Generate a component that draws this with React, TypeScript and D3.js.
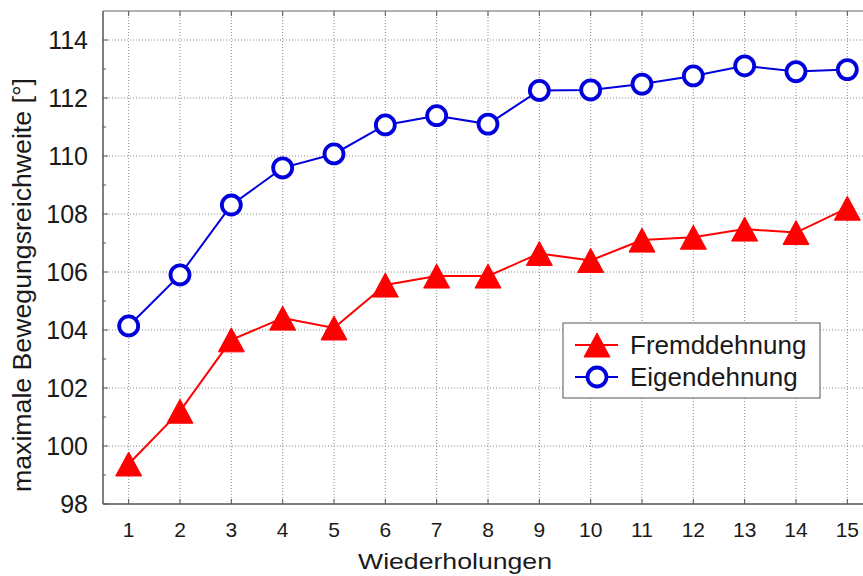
import React from "react";
import * as d3 from "d3";

const repetitions = [1, 2, 3, 4, 5, 6, 7, 8, 9, 10, 11, 12, 13, 14, 15];
const fremddehnung = [99.38, 101.2, 103.66, 104.41, 104.07, 105.55, 105.86, 105.86, 106.64, 106.4, 107.1, 107.2, 107.48, 107.36, 108.2];
const eigendehnung = [104.14, 105.9, 108.31, 109.59, 110.07, 111.07, 111.39, 111.1, 112.26, 112.28, 112.48, 112.76, 113.11, 112.91, 112.98];
const yMajorTicks = [98, 100, 102, 104, 106, 108, 110, 112, 114];
const yMinorTicks = [99, 101, 103, 105, 107, 109, 111, 113];
const seriesNames = ["Fremddehnung", "Eigendehnung"];

const W = 863;
const H = 576;
const font = "'Liberation Sans', Arial, sans-serif";

export default function App() {
  const x = d3.scaleLinear().domain([0.5, 15.5]).range([103, 873]);
  const y = d3.scaleLinear().domain([98, 115]).range([504, 11]);
  const left = x.range()[0];
  const right = x.range()[1];
  const top = y.range()[1];
  const bottom = y.range()[0];

  const line = d3
    .line<[number, number]>()
    .x((d) => x(d[0]))
    .y((d) => y(d[1]));

  const redData: [number, number][] = repetitions.map((r, i) => [r, fremddehnung[i]]);
  const blueData: [number, number][] = repetitions.map((r, i) => [r, eigendehnung[i]]);

  const red = "#ff0000";
  const blue = "#0000dd";
  const tri = (cx: number, cy: number, w = 26, h = 24) =>
    `M${cx},${cy - h / 2}L${cx + w / 2},${cy + h / 2}L${cx - w / 2},${cy + h / 2}Z`;

  const axisColor = "#555";
  const gridColor = "#8a8a8a";

  return (
    <svg
      width={W}
      height={H}
      style={{ position: "absolute", left: 0, top: 0, background: "#fff" }}
      fontFamily={font}
    >
      <rect x={0} y={0} width={W} height={H} fill="#fff" />
      {/* grid */}
      <g stroke={gridColor} strokeWidth={1} strokeDasharray="1,2">
        {repetitions.map((r) => (
          <line key={"vx" + r} x1={x(r)} x2={x(r)} y1={top} y2={bottom} />
        ))}
        {yMajorTicks.slice(1).map((t) => (
          <line key={"hy" + t} x1={left} x2={right} y1={y(t)} y2={y(t)} />
        ))}
      </g>
      {/* frame */}
      <line x1={left} x2={right} y1={top} y2={top} stroke="#999" strokeWidth={1.5} />
      <line x1={left} x2={left} y1={top} y2={bottom} stroke={axisColor} strokeWidth={1.5} />
      <line x1={left} x2={right} y1={bottom} y2={bottom} stroke={axisColor} strokeWidth={1.5} />
      {/* ticks */}
      <g stroke={axisColor} strokeWidth={1}>
        {repetitions.map((r) => (
          <g key={"tx" + r}>
            <line x1={x(r)} x2={x(r)} y1={bottom} y2={bottom - 5} />
            <line x1={x(r)} x2={x(r)} y1={top} y2={top + 5} />
          </g>
        ))}
        {yMajorTicks.map((t) => (
          <line key={"ty" + t} x1={left} x2={left + 5} y1={y(t)} y2={y(t)} />
        ))}
        {yMinorTicks.map((t) => (
          <line key={"tm" + t} x1={left} x2={left + 3} y1={y(t)} y2={y(t)} />
        ))}
      </g>
      {/* tick labels */}
      <g fill="#1a1a1a">
        {repetitions.map((r) => (
          <text key={"lx" + r} x={x(r)} y={537} fontSize={21} textAnchor="middle">
            {r}
          </text>
        ))}
        {yMajorTicks.map((t) => (
          <text key={"ly" + t} x={88} y={y(t)} dy="0.35em" fontSize={25} textAnchor="end">
            {t}
          </text>
        ))}
      </g>
      {/* axis titles */}
      <text
        x={455}
        y={569}
        fontSize={22}
        textAnchor="middle"
        fill="#1a1a1a"
        textLength={194}
        lengthAdjust="spacingAndGlyphs"
      >
        Wiederholungen
      </text>
      <text
        transform={`translate(31,285) rotate(-90)`}
        fontSize={26}
        textAnchor="middle"
        fill="#1a1a1a"
        textLength={414}
        lengthAdjust="spacingAndGlyphs"
      >
        maximale Bewegungsreichweite [°]
      </text>
      {/* series */}
      <path d={line(blueData) || ""} fill="none" stroke={blue} strokeWidth={2} />
      <path d={line(redData) || ""} fill="none" stroke={red} strokeWidth={2} />
      {blueData.map((d, i) => (
        <circle key={"c" + i} cx={x(d[0])} cy={y(d[1])} r={9.5} fill="#fff" stroke={blue} strokeWidth={3.8} />
      ))}
      {redData.map((d, i) => (
        <path key={"t" + i} d={tri(x(d[0]), y(d[1]))} fill={red} stroke={red} strokeWidth={1} />
      ))}
      {/* legend */}
      <g>
        <rect x={563} y={323} width={257} height={75} fill="#fff" stroke="#555" strokeWidth={1} />
        <line x1={575} x2={618} y1={345} y2={345} stroke={red} strokeWidth={2} />
        <path d={tri(597, 345)} fill={red} stroke={red} strokeWidth={1} />
        <line x1={575} x2={618} y1={377} y2={377} stroke={blue} strokeWidth={2} />
        <circle cx={597} cy={377} r={9.5} fill="#fff" stroke={blue} strokeWidth={3.8} />
        <text x={630} y={354} fontSize={26} fill="#1a1a1a">
          {seriesNames[0]}
        </text>
        <text x={630} y={386} fontSize={26} fill="#1a1a1a">
          {seriesNames[1]}
        </text>
      </g>
    </svg>
  );
}
